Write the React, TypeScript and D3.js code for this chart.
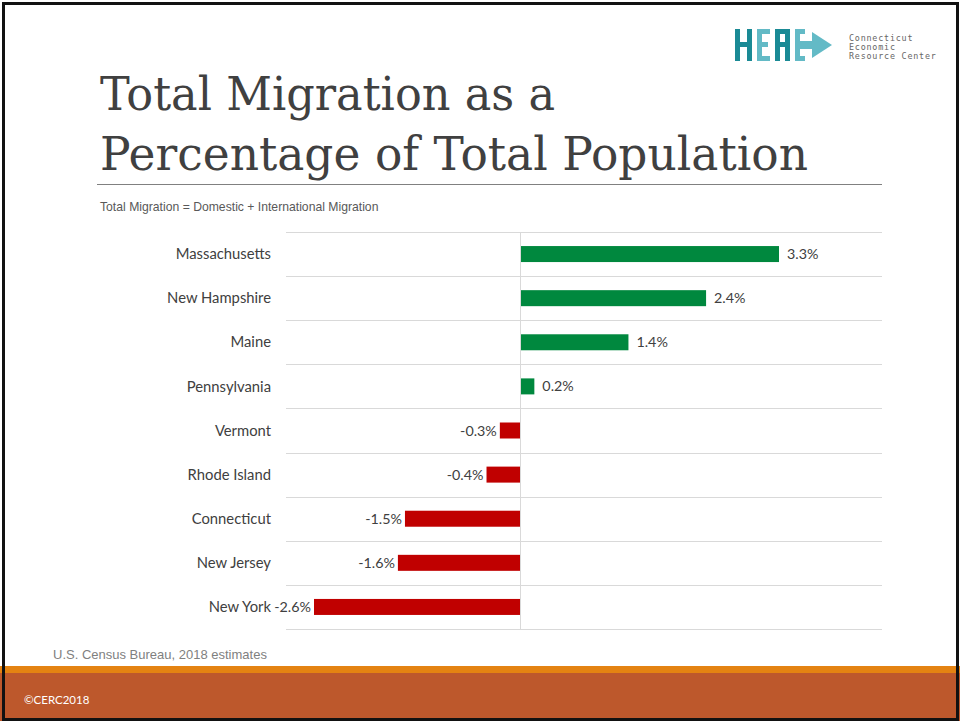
import React, { useEffect, useRef } from "react";
import * as d3 from "d3";

const states = [
  "Massachusetts",
  "New Hampshire",
  "Maine",
  "Pennsylvania",
  "Vermont",
  "Rhode Island",
  "Connecticut",
  "New Jersey",
  "New York",
];
const migrationPct = [3.3, 2.37, 1.38, 0.18, -0.26, -0.43, -1.47, -1.56, -2.63];

const App = () => {
  const svgRef: any = useRef();

  useEffect(() => {
    const svg = d3.select(svgRef.current);
    svg.selectAll("*").remove();
    const width = 960;
    const height = 721;
    svg.attr("width", width).attr("height", height);

    svg.append("rect").attr("x", 0).attr("y", 0).attr("width", width).attr("height", height).attr("fill", "#fff");

    // bottom bands
    svg.append("rect").attr("x", 0).attr("y", 666).attr("width", width).attr("height", 7).attr("fill", "#E48312");
    svg.append("rect").attr("x", 0).attr("y", 673).attr("width", width).attr("height", 48).attr("fill", "#BD582C");
    svg
      .append("text")
      .attr("x", 24)
      .attr("y", 704)
      .attr("font-family", "Lato, 'Open Sans', sans-serif")
      .attr("font-size", 11.5)
      .attr("fill", "#fff")
      .text("©CERC2018");

    // slide frame
    svg
      .append("rect")
      .attr("x", 3.5)
      .attr("y", 3.5)
      .attr("width", width - 6)
      .attr("height", height - 5)
      .attr("fill", "none")
      .attr("stroke", "#111")
      .attr("stroke-width", 3);

    // title
    const title = svg
      .append("text")
      .attr("font-family", "'DejaVu Serif', serif")
      .attr("font-size", 47)
      .attr("fill", "#404040");
    title
      .append("tspan")
      .attr("x", 100)
      .attr("y", 110)
      .attr("textLength", 455)
      .attr("lengthAdjust", "spacingAndGlyphs")
      .text("Total Migration as a");
    title
      .append("tspan")
      .attr("x", 100)
      .attr("y", 170)
      .attr("textLength", 708)
      .attr("lengthAdjust", "spacingAndGlyphs")
      .text("Percentage of Total Population");

    svg
      .append("line")
      .attr("x1", 97)
      .attr("x2", 882)
      .attr("y1", 184.5)
      .attr("y2", 184.5)
      .attr("stroke", "#808080")
      .attr("stroke-width", 1);

    svg
      .append("text")
      .attr("x", 100)
      .attr("y", 211)
      .attr("font-family", "'Liberation Sans', Arial, sans-serif")
      .attr("font-size", 12.2)
      .attr("fill", "#595959")
      .text("Total Migration = Domestic + International Migration");

    svg
      .append("text")
      .attr("x", 53)
      .attr("y", 659)
      .attr("font-family", "'Liberation Sans', Arial, sans-serif")
      .attr("font-size", 13)
      .attr("fill", "#7f7f7f")
      .text("U.S. Census Bureau, 2018 estimates");

    // logo
    const logo = svg.append("g").attr("transform", "translate(735,29)");
    const dark = "#1A8A95";
    const light = "#63BAC6";
    // H
    logo.append("rect").attr("x", 0).attr("y", 0).attr("width", 5).attr("height", 32).attr("fill", dark);
    logo.append("rect").attr("x", 12).attr("y", 0).attr("width", 5).attr("height", 32).attr("fill", dark);
    logo.append("rect").attr("x", 3).attr("y", 13).attr("width", 12).attr("height", 5).attr("fill", dark);
    // E
    logo.append("rect").attr("x", 22).attr("y", 0).attr("width", 5).attr("height", 32).attr("fill", light);
    logo.append("rect").attr("x", 22).attr("y", 0).attr("width", 13).attr("height", 5).attr("fill", light);
    logo.append("rect").attr("x", 22).attr("y", 13).attr("width", 11).attr("height", 5).attr("fill", light);
    logo.append("rect").attr("x", 22).attr("y", 27).attr("width", 13).attr("height", 5).attr("fill", light);
    // R
    logo.append("rect").attr("x", 40).attr("y", 0).attr("width", 5).attr("height", 32).attr("fill", dark);
    logo.append("rect").attr("x", 40).attr("y", 0).attr("width", 14).attr("height", 5).attr("fill", dark);
    logo.append("rect").attr("x", 50).attr("y", 0).attr("width", 5).attr("height", 17).attr("fill", dark);
    logo.append("rect").attr("x", 43).attr("y", 13).attr("width", 10).attr("height", 5).attr("fill", dark);
    logo.append("rect").attr("x", 50).attr("y", 17).attr("width", 5).attr("height", 15).attr("fill", dark);
    // C + arrow
    logo.append("rect").attr("x", 60).attr("y", 0).attr("width", 5).attr("height", 32).attr("fill", light);
    logo.append("rect").attr("x", 60).attr("y", 0).attr("width", 10).attr("height", 5).attr("fill", light);
    logo.append("rect").attr("x", 60).attr("y", 27).attr("width", 10).attr("height", 5).attr("fill", light);
    logo.append("rect").attr("x", 65).attr("y", 12).attr("width", 14).attr("height", 8).attr("fill", light);
    logo.append("path").attr("d", "M77,3 L97,16 L77,29 Z").attr("fill", light);
    const logoText = logo
      .append("text")
      .attr("font-family", "'DejaVu Sans Mono', monospace")
      .attr("font-size", 8.4)
      .attr("letter-spacing", 0.8)
      .attr("fill", "#666");
    logoText.append("tspan").attr("x", 114).attr("y", 12).text("Connecticut");
    logoText.append("tspan").attr("x", 114).attr("y", 21).text("Economic");
    logoText.append("tspan").attr("x", 114).attr("y", 30).text("Resource Center");

    // chart
    const left = 286;
    const right = 882;
    const top = 232;
    const bottom = 629;

    const xScale = d3.scaleLinear().domain([-2.63, 3.3]).range([314, 779]);
    const yScale = d3.scaleBand().domain(states).range([top, bottom]).paddingInner(0).paddingOuter(0);
    const barH = 16;

    const grid = d3.range(states.length + 1).map((i) => top + i * yScale.step());
    svg
      .selectAll(".grid")
      .data(grid)
      .join("line")
      .attr("class", "grid")
      .attr("x1", left)
      .attr("x2", right)
      .attr("y1", (d) => Math.round(d) + 0.5)
      .attr("y2", (d) => Math.round(d) + 0.5)
      .attr("stroke", "#D9D9D9")
      .attr("stroke-width", 1);

    const data = states.map((s, i) => ({ state: s, value: migrationPct[i] }));

    svg
      .selectAll(".bar")
      .data(data)
      .join("rect")
      .attr("class", "bar")
      .attr("x", (d) => xScale(Math.min(0, d.value)))
      .attr("y", (d) => (yScale(d.state) as number) + yScale.bandwidth() / 2 - barH / 2)
      .attr("width", (d) => Math.abs(xScale(d.value) - xScale(0)))
      .attr("height", barH)
      .attr("fill", (d) => (d.value >= 0 ? "#00883E" : "#C00000"));

    svg
      .append("line")
      .attr("x1", Math.round(xScale(0)) + 0.5)
      .attr("x2", Math.round(xScale(0)) + 0.5)
      .attr("y1", top)
      .attr("y2", bottom)
      .attr("stroke", "#D9D9D9")
      .attr("stroke-width", 1);

    const fmt = d3.formatLocale({ decimal: ".", thousands: ",", grouping: [3], currency: ["", ""], minus: "-" }).format(".1f");
    svg
      .selectAll(".label")
      .data(data)
      .join("text")
      .attr("class", "label")
      .attr("x", (d) => (d.value >= 0 ? xScale(d.value) + 8 : xScale(d.value) - 3))
      .attr("y", (d) => (yScale(d.state) as number) + yScale.bandwidth() / 2)
      .attr("dy", "0.35em")
      .attr("text-anchor", (d) => (d.value >= 0 ? "start" : "end"))
      .attr("font-family", "Lato, 'Open Sans', sans-serif")
      .attr("font-size", 14.3)
      .attr("fill", "#404040")
      .text((d) => `${fmt(d.value)}%`);

    svg
      .selectAll(".cat")
      .data(data)
      .join("text")
      .attr("class", "cat")
      .attr("x", 271)
      .attr("y", (d) => (yScale(d.state) as number) + yScale.bandwidth() / 2)
      .attr("dy", "0.35em")
      .attr("text-anchor", "end")
      .attr("font-family", "Lato, 'Open Sans', sans-serif")
      .attr("font-size", 14.8)
      .attr("fill", "#404040")
      .text((d) => d.state);
  }, []);

  return (
    <svg
      ref={svgRef}
      style={{ position: "absolute", left: 0, top: 0, display: "block" }}
    ></svg>
  );
};

export default App;
